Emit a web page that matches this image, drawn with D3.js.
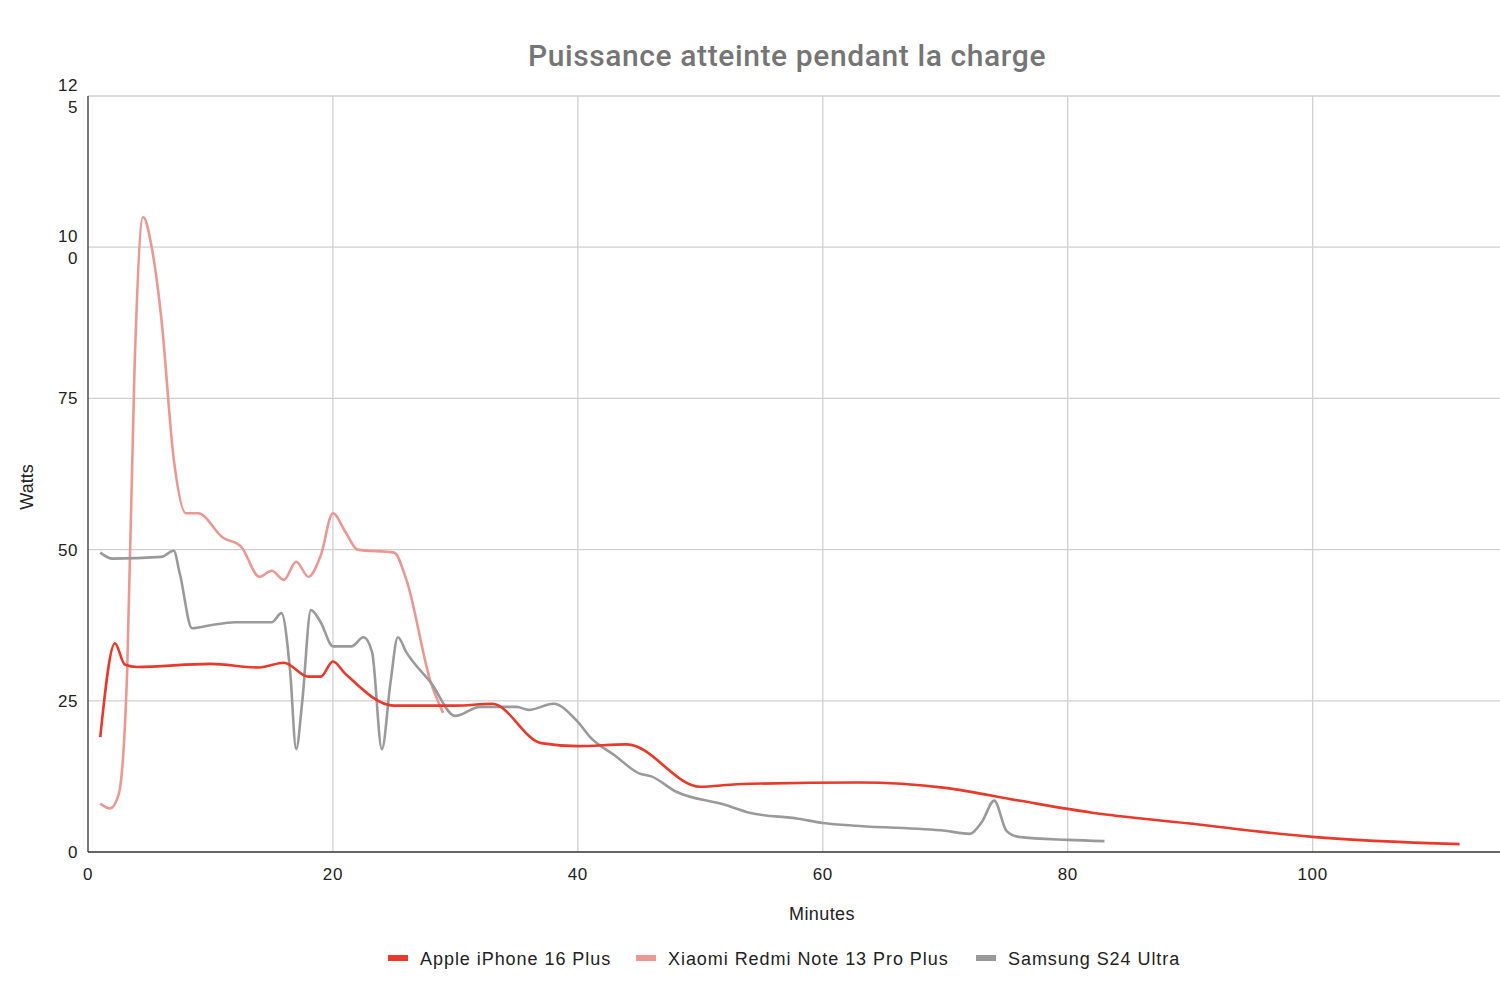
<!DOCTYPE html><html><head><meta charset="utf-8"><script src="https://cdn.jsdelivr.net/npm/d3@7"></script>
<style>body{margin:0;background:#fff}svg{font-family:"Liberation Sans",Arial,sans-serif}</style></head><body><svg id="c" width="1500" height="1000"></svg>
<script>
const seriesNames=["Apple iPhone 16 Plus","Xiaomi Redmi Note 13 Pro Plus","Samsung S24 Ultra"];
const colors=["#e8392b","#eb9893","#9a9a9a"];
const xTicks=[0,20,40,60,80,100];
const yTicks=[0,25,50,75,100,125];
const apple=[[1,19],[2.2,34.5],[3,31],[4,30.6],[10,31.1],[14,30.5],[16,31.3],[18,29],[19,29],[20,31.5],[21,29.5],[25,24.2],[30,24.2],[33,24.5],[37,18],[40,17.5],[44,17.8],[50,10.8],[53,11.2],[63,11.5],[70,10.6],[76,8.5],[82,6.5],[90,4.7],[95,3.5],[100,2.5],[112,1.3]];
const xiaomi=[[1,8],[1.8,7.2],[2.5,9.5],[3.2,30],[3.8,80],[4.5,105],[5.2,100],[6,88],[7,65],[8,56],[9,56],[11,52],[12.5,50.5],[14,45.5],[15,46.5],[16,45],[17,48],[18,45.5],[19,49],[20,56],[21,53],[22,50],[25,49.5],[26,45],[28,28],[29,23]];
const samsung=[[1,49.5],[2,48.5],[6,48.8],[7,49.8],[7.5,46],[8.5,37],[10,37.5],[12,38],[15,38],[15.8,39.5],[16.5,30],[17,17],[17.5,25],[18.2,40],[19,38],[20,34],[21.5,34],[22.5,35.5],[23.2,33],[24,17],[24.7,28],[25.3,35.5],[26,33],[28,28],[30,22.5],[32,24],[35,24],[36,23.5],[38,24.5],[40,21.5],[41,19],[43,16],[45,13],[46,12.5],[48,10],[52,7.8],[54,6.5],[58,5.5],[60,4.8],[63,4.3],[70,3.5],[72,3],[73,5],[74,8.5],[75,3.5],[76,2.5],[80,2],[83,1.8]];
const data=[apple,xiaomi,samsung];
const svg=d3.select("#c");
const L=88,R=1500,T=96,B=852;
const x=d3.scaleLinear().domain([0,115.3]).range([L,R]);
const y=d3.scaleLinear().domain([0,125]).range([B,T]);
svg.append("text").attr("x",787).attr("y",66).attr("text-anchor","middle").attr("font-size",30).attr("font-family","Roboto").attr("font-weight",500).attr("letter-spacing",0.6).attr("fill","#757575").text("Puissance atteinte pendant la charge");
const g=svg.append("g");
g.selectAll(".gx").data(xTicks.slice(1)).join("line").attr("x1",d=>x(d)).attr("x2",d=>x(d)).attr("y1",T).attr("y2",B).attr("stroke","#d0d0d0").attr("stroke-width",1.3);
g.selectAll(".gy").data(yTicks.slice(1)).join("line").attr("x1",L).attr("x2",R).attr("y1",d=>y(d)).attr("y2",d=>y(d)).attr("stroke","#d0d0d0").attr("stroke-width",1.3);
g.append("line").attr("x1",L).attr("x2",L).attr("y1",T).attr("y2",B).attr("stroke","#333").attr("stroke-width",1.3);
g.append("line").attr("x1",L).attr("x2",R).attr("y1",B).attr("y2",B).attr("stroke","#333").attr("stroke-width",1.5);
g.selectAll(".tx").data(xTicks).join("text").attr("x",d=>x(d)).attr("y",880).attr("text-anchor","middle").attr("font-size",17).attr("letter-spacing",0.6).attr("fill","#222").text(d=>d);
yTicks.forEach(v=>{const s=String(v);const t=g.append("text").attr("text-anchor","end").attr("font-size",17).attr("letter-spacing",0.6).attr("fill","#222");
 if(s.length>2){t.append("tspan").attr("x",78).attr("y",y(v)-5).text(s.slice(0,2));t.append("tspan").attr("x",78).attr("y",y(v)+17).text(s.slice(2));}
 else t.attr("x",78).attr("y",y(v)+6).text(s);});
svg.append("text").attr("x",822).attr("y",920).attr("text-anchor","middle").attr("font-size",18).attr("letter-spacing",0.4).attr("fill","#222").text("Minutes");
svg.append("text").attr("transform","translate(33,487) rotate(-90)").attr("text-anchor","middle").attr("font-size",18).attr("fill","#222").text("Watts");
const line=d3.line().x(d=>x(d[0])).y(d=>y(d[1])).curve(d3.curveMonotoneX);
[1,2,0].forEach(i=>svg.append("path").attr("d",line(data[i])).attr("fill","none").attr("stroke",colors[i]).attr("stroke-width",2.6));
const lx=[388,636,976];
seriesNames.forEach((n,i)=>{svg.append("rect").attr("x",lx[i]).attr("y",955).attr("width",20).attr("height",6).attr("fill",colors[i]);
 svg.append("text").attr("x",lx[i]+32).attr("y",965).attr("font-size",18).attr("letter-spacing",0.95).attr("fill","#222").text(n);});
</script></body></html>
